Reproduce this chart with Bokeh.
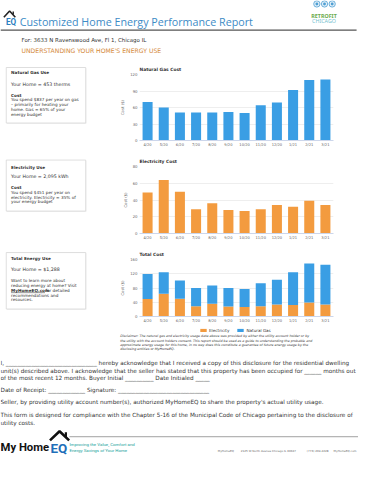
from bokeh.plotting import figure
from bokeh.models import Range1d, FactorRange, Legend, LegendItem, ColumnDataSource, FixedTicker
from bokeh.layouts import column, row
from bokeh.embed import file_html
from bokeh.resources import INLINE
from bokeh.core.properties import value

# ---------------- data ----------------
months = ["4/20", "5/20", "6/20", "7/20", "8/20", "9/20", "10/20", "11/20", "12/20", "1/21", "2/21", "3/21"]
gas_cost = [70, 60, 51, 51, 51, 52, 50, 64, 69, 92, 110, 111]
elec_cost = [49, 64, 50, 29, 36, 28, 27, 29, 34, 32, 39, 34]
gas_ticks = [0, 30, 60, 90, 120]
elec_ticks = [0, 20, 40, 60, 80]
total_ticks = [0, 40, 80, 120, 160]
series_names = ["Electricity", "Natural Gas"]

# ---------------- style ----------------
S = 358 / 374
FONT = "DejaVu Sans"
BLUE = "#3a9ee4"
ORANGE = "#f39b3f"
TXT = "#333333"
NAN = float("nan")


def fs(v):
    return f"{v * S:.2f}px"


def canvas(w, h, x0, y0):
    return figure(width=w, height=h, x_range=Range1d(x0, x0 + w / S), y_range=Range1d(y0 + h / S, y0),
                  output_backend="svg", toolbar_location=None, min_border=0,
                  x_axis_type=None, y_axis_type=None, outline_line_color=None,
                  background_fill_color="white", border_fill_color="white")


def txt(p, x, y, s, size, color=TXT, style="normal", font=FONT, align="left", baseline="middle"):
    p.text(x=[x], y=[y], text=[s], text_font=value(font), text_font_size=fs(size), text_color=color,
           text_font_style=style, text_align=align, text_baseline=baseline)


H_GAS, H_EL, H_TOT = 91, 93, 82
HDR_H = 59
MID_H = H_GAS + H_EL + H_TOT
FT_H = 483 - HDR_H - MID_H
Y_MID = HDR_H / S
Y_FT = (HDR_H + MID_H) / S

# ---------------- header ----------------
hdr = canvas(358, HDR_H, 0, 0)
hdr.line(x=[3.5, 9.5, 15.5], y=[17.5, 11, 17.5], line_color="#222222", line_width=1.6)
hdr.line(x=[13.3, 13.3], y=[11.5, 14.5], line_color="#222222", line_width=1.4)
txt(hdr, 11.0, 22.0, "EQ", 8.5, color="#2b7fc0", style="bold", font="Roboto", align="center")
txt(hdr, 20, 22.5, "Customized Home Energy Performance Report", 11.2, color="#3d8bc6", font="Open Sans")
hdr.circle(x=[330.5, 338.5, 346.5], y=[3.6, 3.6, 3.6], radius=3.3, fill_color="#e4f0f8", line_color="#4f9fd3", line_width=0.8)
hdr.circle(x=[330.5, 338.5, 346.5], y=[3.6, 3.6, 3.6], radius=1.5, fill_color="#4f9fd3", line_color=None)
txt(hdr, 338, 15.7, "RETROFIT", 5.6, color="#6aab4c", style="bold", font="Noto Sans", align="center")
txt(hdr, 338, 21.2, "CHICAGO", 5.6, color="#74c1cf", font="Noto Sans", align="center")
hdr.line(x=[0, 372], y=[31, 31], line_color="#555555", line_width=1.4)
txt(hdr, 22, 41, "For: 3633 N Ravenswood Ave, Fl 1, Chicago IL", 5.7, color="#333333")
txt(hdr, 22, 52.7, "UNDERSTANDING YOUR HOME'S ENERGY USE", 6.4, color="#d4893a")

# ---------------- left info boxes ----------------
left = canvas(117, MID_H, 0, Y_MID)
bl, br = [6, 6, 6], [89, 89, 89]
bt, bb = [70, 166.7, 263.3], [128, 220, 322.3]
left.quad(left=[v + 0.8 for v in bl], right=[v + 0.8 for v in br], top=[v + 0.8 for v in bt],
          bottom=[v + 0.8 for v in bb], fill_color="#f0f0f0", line_color=None)
left.quad(left=bl, right=br, top=bt, bottom=bb, fill_color="white", line_color="#d6d6d6", line_width=0.8)

txt(left, 11, 75.7, "Natural Gas Use", 4.4, style="bold")
txt(left, 11, 87.7, "Your Home = 453 therms", 4.9)
txt(left, 11, 98.8, "Cost", 4.4, style="bold")
for i, s in enumerate(["You spend $837 per year on gas", "\u2013 primarily for heating your",
                       "home. Gas = 65% of your", "energy budget"]):
    txt(left, 11, 103.8 + 5 * i, s, 4.4)

txt(left, 11, 174, "Electricity Use", 4.4, style="bold")
txt(left, 11, 184, "Your Home = 2,095 kWh", 4.9)
txt(left, 11, 195.6, "Cost", 4.4, style="bold")
for i, s in enumerate(["You spend $451 per year on", "electricity. Electricity = 35% of",
                       "your energy budget"]):
    txt(left, 11, 200.4 + 5 * i, s, 4.4)

txt(left, 11, 270, "Total Energy Use", 4.4, style="bold")
txt(left, 11, 281.3, "Your Home = $1,288", 4.9)
txt(left, 11, 292.7, "Want to learn more about", 4.4)
txt(left, 11, 297.7, "reducing energy at home? Visit", 4.4)
txt(left, 11, 302.7, "MyHomeEQ.com", 4.4, style="bold")
left.line(x=[11, 46.5], y=[305.2, 305.2], line_color=TXT, line_width=0.5)
txt(left, 47, 302.7, " for detailed", 4.4)
txt(left, 11, 307.7, "recommendations and", 4.4)
txt(left, 11, 312.7, "resources.", 4.4)


# ---------------- charts ----------------
def style_chart(p, title, ticks):
    p.title.text = title
    p.title.text_font = FONT
    p.title.text_font_size = fs(4.6)
    p.title.text_font_style = "bold"
    p.title.text_color = "#333333"
    p.title.align = "left"
    p.title.standoff = 6
    p.yaxis.ticker = FixedTicker(ticks=ticks)
    p.ygrid.ticker = FixedTicker(ticks=ticks)
    p.yaxis.axis_label = "Cost ($)"
    p.yaxis.axis_label_text_font = FONT
    p.yaxis.axis_label_text_font_size = fs(4.0)
    p.yaxis.axis_label_text_font_style = "normal"
    p.yaxis.axis_label_text_color = "#666666"
    p.yaxis.axis_label_standoff = 2
    p.yaxis.major_label_standoff = 2
    p.axis.major_tick_out = 0
    p.axis.major_tick_in = 0
    p.axis.minor_tick_out = 0
    p.axis.minor_tick_in = 0
    p.yaxis.axis_line_color = None
    p.yaxis.major_tick_line_color = None
    p.yaxis.minor_tick_line_color = None
    p.yaxis.major_label_text_font = FONT
    p.yaxis.major_label_text_font_size = fs(4.0)
    p.yaxis.major_label_text_color = "#666666"
    p.xaxis.major_label_text_font = FONT
    p.xaxis.major_label_text_font_size = fs(3.8)
    p.xaxis.major_label_text_color = "#666666"
    p.xaxis.axis_line_color = "#ccd6eb"
    p.xaxis.major_tick_line_color = None
    p.xaxis.major_label_standoff = 2
    p.xgrid.visible = False
    p.ygrid.grid_line_color = "#e6e6e6"
    p.ygrid.grid_line_width = 0.7


def make_fig(h, top, bottom, ymax):
    return figure(width=241, height=h, x_range=FactorRange(factors=months, range_padding=0),
                  y_range=Range1d(0, ymax), output_backend="svg", toolbar_location=None,
                  min_border_left=20, min_border_right=25, min_border_top=top, min_border_bottom=bottom,
                  outline_line_color=None, background_fill_color="white", border_fill_color="white")


src = ColumnDataSource(dict(month=months, gas=gas_cost, elec=elec_cost))

p_gas = make_fig(H_GAS, 15, 10, gas_ticks[-1])
p_gas.vbar(x="month", top="gas", width=0.62, source=src, fill_color=BLUE, line_color=None)
style_chart(p_gas, "Natural Gas Cost", gas_ticks)

p_el = make_fig(H_EL, 16, 10, elec_ticks[-1])
p_el.vbar(x="month", top="elec", width=0.62, source=src, fill_color=ORANGE, line_color=None)
style_chart(p_el, "Electricity Cost", elec_ticks)

p_tot = make_fig(H_TOT, 16, 8, total_ticks[-1])
p_tot.vbar_stack(["elec", "gas"], x="month", width=0.62, source=src, fill_color=[ORANGE, BLUE],
                 line_color=None)
style_chart(p_tot, "Total Cost", total_ticks)

# ---------------- footer (legend, disclaimer, acknowledgement, logo) ----------------
ft = canvas(358, FT_H, 0, Y_FT)
# legend swatches for the stacked "Total Cost" series (no visible geometry)
r_el = ft.quad(left=[NAN], right=[NAN], top=[NAN], bottom=[NAN], fill_color=ORANGE, line_color=None)
r_gs = ft.quad(left=[NAN], right=[NAN], top=[NAN], bottom=[NAN], fill_color=BLUE, line_color=None)
leg = Legend(items=[LegendItem(label=series_names[0], renderers=[r_el]),
                    LegendItem(label=series_names[1], renderers=[r_gs])],
             orientation="horizontal", location=(199, FT_H - 7.5), label_text_font=FONT,
             label_text_font_size=fs(4.3), label_text_color="#333333", glyph_width=8, glyph_height=4,
             label_height=4, label_standoff=2, spacing=7, padding=0, margin=0,
             border_line_color=None, background_fill_alpha=0)
ft.add_layout(leg)

for i, s in enumerate([
        "Disclaimer: The natural gas and electricity usage data above was provided by either the utility account holder or by",
        "the utility with the account holders consent. This report should be used as a guide to understanding the probable and",
        "approximate energy usage for this home, in no way does this constitute a guarantee of future energy usage by the",
        "disclosing entities or MyHomeEQ."]):
    txt(ft, 125, 351 + 4.3 * i, s, 3.4, style="italic")

lines = [
    (379, "I, " + "_" * 32 + " hereby acknowledge that I received a copy of this disclosure for the residential dwelling"),
    (387, "unit(s) described above. I acknowledge that the seller has stated that this property has been occupied for ______ months out"),
    (394.5, "of the most recent 12 months. Buyer Initial " + "_" * 10 + " Date Initialed " + "_" * 5),
    (406.5, "Date of Receipt: " + "_" * 13 + " Signature: " + "_" * 32),
    (419.5, "Seller, by providing utility account number(s), authorized MyHomeEQ to share the property's actual utility usage."),
    (433, "This form is designed for compliance with the Chapter 5-16 of the Municipal Code of Chicago pertaining to the disclosure of"),
    (441, "utility costs."),
]
for y, s in lines:
    txt(ft, 0, y, s, 5.95)

ft.line(x=[72, 374], y=[455.7, 455.7], line_color="#8a8a8a", line_width=0.8)
ft.line(x=[51.7, 61.7, 71.7], y=[459.5, 450, 459.5], line_color="#111111", line_width=2.6)
ft.line(x=[68.3, 68.3], y=[451, 456], line_color="#111111", line_width=2.2)
txt(ft, 0, 466.5, "My Home", 11.8, color="#111111", style="bold", font="Roboto")
txt(ft, 61, 468, "EQ", 14, color="#1f6fb9", style="bold", font="Roboto", align="center")
txt(ft, 72, 464, "Improving the Value, Comfort and", 4.6, color="#22a29c", font="Roboto")
txt(ft, 72, 470, "Energy Savings of Your Home", 4.6, color="#22a29c", font="Roboto")
for x, s in [(227, "MyHomeEQ"), (251, "2125 W North Avenue Chicago IL 60647"), (320, "(773) 269-2228"),
             (348, "MyHomeEQ.com")]:
    txt(ft, x, 470.5, s, 2.9, color="#666666")

layout = column(hdr, row(left, column(p_gas, p_el, p_tot)), ft)
open("out.html", "w").write(file_html(layout, INLINE))
